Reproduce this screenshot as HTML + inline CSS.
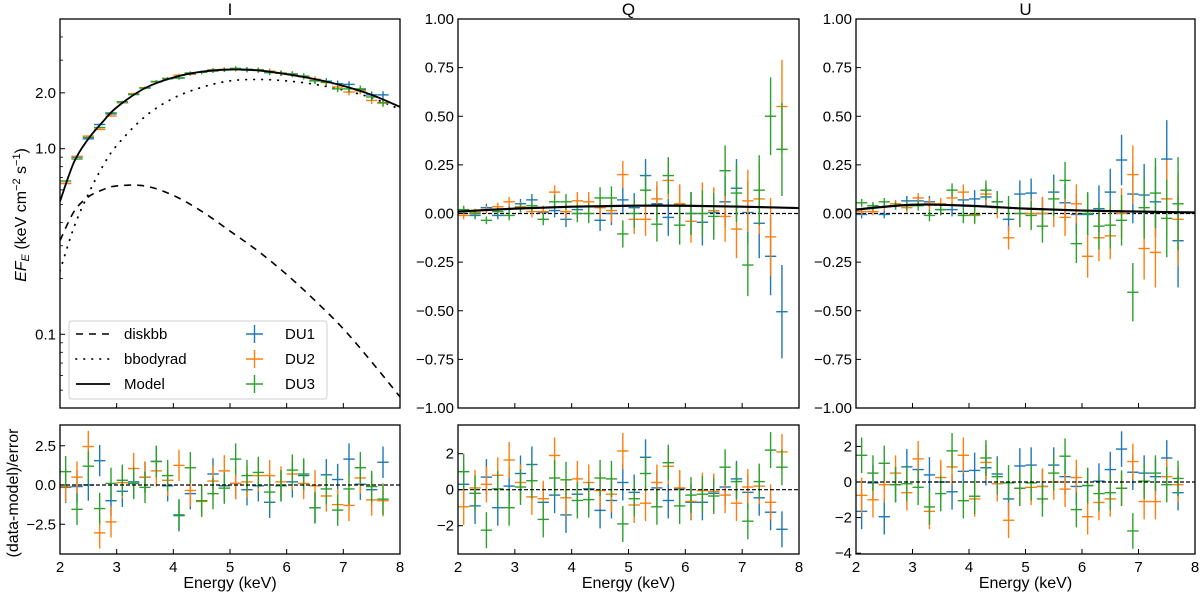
<!DOCTYPE html>
<html><head><meta charset="utf-8"><style>
body{margin:0;background:#fff;}
svg{display:block;font-family:"Liberation Sans","DejaVu Sans",sans-serif;}
</style></head><body>
<svg id="chart" width="1200" height="593" viewBox="0 0 1200 593" xmlns="http://www.w3.org/2000/svg"></svg>
<script>
// ---- data ----
const bins = [2.1,2.3,2.5,2.7,2.9,3.1,3.3,3.5,3.7,3.9,4.1,4.3,4.5,4.7,4.9,5.1,5.3,5.5,5.7,5.9,6.1,6.3,6.5,6.7,6.9,7.1,7.3,7.5,7.7];
const curveE = [2,2.25,2.5,2.75,3,3.5,4,4.5,5,5.5,6,6.5,7,7.5,8];
const modelI = [0.52,0.85,1.13,1.39,1.67,2.12,2.42,2.60,2.67,2.64,2.52,2.37,2.18,1.95,1.68];
const diskbbI = [0.32,0.46,0.55,0.60,0.63,0.63,0.56,0.46,0.36,0.28,0.21,0.152,0.107,0.071,0.046];
const bbodyI = [0.22,0.38,0.57,0.80,1.04,1.49,1.87,2.14,2.32,2.36,2.32,2.22,2.07,1.88,1.63];
const i1 = [0.65,0.90,1.13,1.35,1.54,1.77,1.96,2.13,2.30,2.38,2.40,2.52,2.58,2.66,2.66,2.68,2.65,2.64,2.57,2.55,2.51,2.46,2.32,2.31,2.24,2.22,2.07,1.95,1.95];
const i2 = [0.65,0.91,1.17,1.27,1.50,1.78,1.98,2.13,2.29,2.39,2.49,2.53,2.58,2.65,2.68,2.68,2.67,2.66,2.62,2.56,2.52,2.44,2.37,2.27,2.15,2.02,2.05,1.82,1.76];
const i3 = [0.67,0.88,1.15,1.30,1.56,1.79,1.96,2.12,2.30,2.39,2.41,2.56,2.58,2.62,2.66,2.71,2.68,2.66,2.58,2.55,2.53,2.46,2.32,2.28,2.10,2.10,2.10,1.90,1.77];
const q1 = [0.01,-0.01,0.03,-0.01,0.025,0.05,0.07,0.005,0.015,-0.03,0.02,0.035,-0.035,0.0,0.07,0.03,0.195,0.05,-0.02,0.045,0.0,-0.045,0.005,0.06,0.13,0.005,-0.05,-0.22,-0.505];
const q2 = [-0.01,0.005,0.02,0.035,0.06,0.035,0.01,0.01,0.11,0.01,0.065,0.06,0.03,0.015,0.20,-0.03,-0.03,0.075,0.17,0.05,-0.04,0.04,0.015,-0.015,-0.08,0.065,0.075,-0.12,0.55];
const q3 = [0.02,0.0,-0.035,0.01,-0.01,0.03,0.04,-0.03,0.06,0.06,0.0,0.0,0.08,0.08,-0.105,0.0,0.12,-0.055,0.195,-0.06,0.0,0.0,-0.015,0.22,0.105,-0.265,0.12,0.50,0.33];
const polErr = [0.02,0.02,0.02,0.02,0.025,0.025,0.03,0.03,0.035,0.04,0.045,0.05,0.055,0.06,0.07,0.075,0.085,0.09,0.095,0.1,0.11,0.12,0.12,0.13,0.15,0.16,0.18,0.2,0.24];
const u1 = [-0.005,0.03,-0.005,0.04,0.065,0.065,0.06,0.02,0.02,0.07,0.075,0.085,0.06,-0.03,0.10,0.105,0.0,0.11,0.055,-0.005,-0.005,0.025,0.11,0.275,0.10,0.095,0.06,0.28,-0.14];
const u2 = [0.01,0.01,0.035,0.05,0.03,0.08,0.05,0.05,0.08,0.11,-0.01,0.10,0.03,-0.125,0.0,0.0,0.0,0.02,-0.02,0.05,-0.22,-0.125,-0.115,0.0,0.20,-0.18,-0.2,0.075,-0.03];
const u3 = [0.055,0.04,0.06,0.04,0.04,0.04,-0.01,0.02,0.12,-0.01,-0.005,0.12,0.06,0.03,0.0,-0.01,-0.065,0.075,0.17,-0.155,0.0,-0.065,-0.06,-0.035,-0.405,0.03,0.105,-0.025,0.05];
const modelE = [2,3,4,5,6,7,8];
const modelQ = [0.01,0.025,0.035,0.04,0.04,0.035,0.028];
const modelU = [0.02,0.045,0.04,0.025,0.015,0.01,0.005];
const ri1 = [-0.15,-0.1,0.0,1.55,-1.0,-0.4,0.2,0.5,1.5,-0.05,-1.95,-0.55,-1.0,0.7,-0.05,0.1,-0.3,-0.05,-1.1,-0.05,0.2,0.6,-1.45,0.65,0.35,1.65,0.05,-0.3,1.45];
const ri2 = [-0.1,0.5,2.45,-3.05,-2.35,0.15,1.05,0.5,0.9,0.3,1.25,-0.35,-1.05,0.25,0.9,0.1,0.2,0.6,0.6,0.2,0.7,0.1,-0.05,-0.7,-1.25,-1.3,0.45,-0.95,-1.0];
const ri3 = [0.85,-1.55,1.2,-1.5,0.1,0.3,0.1,-0.15,1.5,0.6,-1.9,1.1,-1.0,-0.55,-0.2,1.65,0.6,0.8,-0.45,-0.05,0.95,0.7,-1.45,-0.25,-1.6,-0.25,1.1,-0.1,-0.9];
const rq1 = [0.3,-0.9,0.7,-1.0,0.2,0.9,1.4,-0.7,-0.3,-1.4,-0.25,0.05,-1.15,-0.6,0.4,-0.15,1.8,0.1,-0.6,0.05,-0.7,-0.7,-0.2,0.15,0.6,-0.15,-0.45,-1.25,-2.2];
const rq2 = [-0.95,0.1,0.3,0.8,1.65,0.4,-0.4,-0.5,1.9,-0.45,0.6,0.4,-0.05,-0.25,2.15,-0.85,-0.75,0.4,1.3,0.1,-0.65,-0.05,-0.1,-0.3,-0.75,0.15,0.2,-0.7,2.1];
const rq3 = [1.0,-0.2,-2.25,0.05,-1.0,0.15,0.5,-1.65,0.65,0.55,-0.6,-0.55,0.65,0.6,-1.9,-0.5,0.9,-0.95,1.5,-0.9,-0.3,-0.25,-0.35,1.25,0.45,-1.75,0.45,2.2,1.25];
const ru1 = [-1.65,-0.05,-1.95,-0.15,0.85,0.7,0.4,0.0,-0.55,0.6,0.65,0.8,0.45,-0.95,0.9,0.95,-0.25,0.95,0.3,-0.25,-0.2,0.05,0.7,1.85,0.55,0.5,0.3,1.35,-0.6];
const ru2 = [-0.75,-1.0,-0.15,0.5,-0.6,1.3,-1.65,0.25,0.85,1.5,-0.95,1.1,-0.1,-2.15,-0.35,-0.3,-0.25,0.0,-0.4,0.25,-1.95,-1.15,-0.95,-0.35,1.15,-1.1,-1.1,0.3,-0.15];
const ru3 = [1.5,0.5,1.05,-0.15,-0.1,-0.3,-1.4,-0.65,1.75,-1.05,-0.8,1.35,0.3,-0.05,-0.35,-0.05,-0.95,0.5,1.45,-1.55,-0.2,-0.65,-0.6,-0.35,-2.75,0.05,0.5,-0.15,0.2];
const iTicks = [2.0,1.0,0.1];
const polTicks = [1.0,0.75,0.5,0.25,0,-0.25,-0.5,-0.75,-1.0];
const xTicks = [2,3,4,5,6,7,8];
const colors = ['#1f77b4','#ff7f0e','#2ca02c'];

const NS='http://www.w3.org/2000/svg';
const svg=document.getElementById('chart');
function mk(tag,attrs,parent){const e=document.createElementNS(NS,tag);for(const k in attrs)e.setAttribute(k,attrs[k]);(parent||svg).appendChild(e);return e;}

const cols=[{x0:60,x1:400},{x0:458,x1:799},{x0:856,x1:1195}];
const TOP={y0:19,y1:408}, BOT={y0:425,y1:554};
function xs(c){return e=>cols[c].x0+(e-2)/6*(cols[c].x1-cols[c].x0);}
const yLog=v=>148.7-185.6*Math.log10(v);
const yPol=v=>TOP.y0+(1-v)/2*(TOP.y1-TOP.y0);
const yR=[v=>485-15.7*v, v=>489.7-18*v, v=>482-17.8*v];
const FS=15;

function clip(id,c,p){const cp=mk('clipPath',{id:id});mk('rect',{x:cols[c].x0,y:p.y0,width:cols[c].x1-cols[c].x0,height:p.y1-p.y0},cp);return 'url(#'+id+')';}

function frame(c,p,name){
  const r=mk('rect',{x:cols[c].x0,y:p.y0,width:cols[c].x1-cols[c].x0,height:p.y1-p.y0,fill:'none',stroke:'#000','stroke-width':1.3});
  
  
}
function xAxis(c,p,labels,name){
  const g=mk('g',{});
  
  
  const X=xs(c);
  xTicks.forEach(t=>{
    const x=X(t);
    mk('line',{x1:x,x2:x,y1:p.y1,y2:p.y1-5,stroke:'#000','stroke-width':1},g);
    if(labels){const tx=mk('text',{x:x,y:p.y1+18,'font-size':FS,'text-anchor':'middle'},g);tx.textContent=t;}
  });
  if(labels){const tt=mk('text',{x:(cols[c].x0+cols[c].x1)/2,y:p.y1+34,'font-size':16,'text-anchor':'middle'},g);tt.textContent='Energy (keV)';}
}
function yAxis(c,ticks,fy,fmt,name,minor){
  const g=mk('g',{});
  
  
  const x0=cols[c].x0;
  ticks.forEach(t=>{
    const y=fy(t);
    mk('line',{x1:x0,x2:x0+5,y1:y,y2:y,stroke:'#000','stroke-width':1},g);
    const tx=mk('text',{x:x0-4,y:y+5,'font-size':FS,'text-anchor':'end'},g);tx.textContent=fmt(t);
  });
  (minor||[]).forEach(t=>{const y=fy(t);mk('line',{x1:x0,x2:x0+3,y1:y,y2:y,stroke:'#000','stroke-width':0.8},g);});
}
function curve(c,E,V,fy,attrs,name,cl){
  const X=xs(c);
  const pts=E.map((e,i)=>[X(e),fy(V[i])]);
  let d='M'+pts[0][0]+','+pts[0][1];
  for(let i=0;i<pts.length-1;i++){
    const p0=pts[Math.max(0,i-1)],p1=pts[i],p2=pts[i+1],p3=pts[Math.min(pts.length-1,i+2)];
    d+=' C'+(p1[0]+(p2[0]-p0[0])/6)+','+(p1[1]+(p2[1]-p0[1])/6)+' '+(p2[0]-(p3[0]-p1[0])/6)+','+(p2[1]-(p3[1]-p1[1])/6)+' '+p2[0]+','+p2[1];
  }
  const a=Object.assign({d:d,fill:'none','clip-path':cl},attrs);
  const p=mk('path',a);
  
  
}
function errbars(c,vals,errs,fy,col,name,cl){
  const g=mk('g',{'clip-path':cl,stroke:col,'stroke-width':1.4});
  
  
  const X=xs(c);
  bins.forEach((e,i)=>{
    const v=vals[i], er=errs(i,v);
    const x=X(e), y=fy(v);
    mk('line',{x1:X(e-0.1),x2:X(e+0.1),y1:y,y2:y},g);
    mk('line',{x1:x,x2:x,y1:fy(v+er),y2:fy(v-er)},g);
  });
}
function zeroLine(c,p,fy,name,cl){
  const l=mk('line',{x1:cols[c].x0,x2:cols[c].x1,y1:fy(0),y2:fy(0),stroke:'#000','stroke-width':1.2,'stroke-dasharray':'4,2','clip-path':cl});
  
  
}

['I','Q','U'].forEach((t,c)=>{const tx=mk('text',{x:(cols[c].x0+cols[c].x1)/2,y:15,'font-size':17,'text-anchor':'middle'});tx.textContent=t;
  
  });

// ---- I top ----
const cI=clip('cI',0,TOP);
const minorLog=[0.05,0.06,0.07,0.08,0.09,0.2,0.3,0.4,0.5,0.6,0.7,0.8,0.9,3,4];
yAxis(0,iTicks,yLog,t=>t.toFixed(1),'i-y-axis',minorLog);
xAxis(0,TOP,false,'i-x-axis');
curve(0,curveE,diskbbI,yLog,{stroke:'#000','stroke-width':1.6,'stroke-dasharray':'7,6'},'diskbb-curve',cI);
curve(0,curveE,bbodyI,yLog,{stroke:'#000','stroke-width':1.8,'stroke-dasharray':'0.5,7.5','stroke-linecap':'round'},'bbodyrad-curve',cI);
[i1,i2,i3].forEach((s,k)=>errbars(0,s,(i,v)=>v*(0.004+0.0015*i),yLog,colors[k],'i-du'+(k+1)+'-points',cI));
curve(0,curveE,modelI,yLog,{stroke:'#000','stroke-width':1.8},'i-model-curve',cI);
frame(0,TOP,'i-panel-frame');
const yl=mk('text',{x:0,y:0,'font-size':16,'text-anchor':'middle',transform:'translate(26,215) rotate(-90)'});


yl.innerHTML='<tspan font-style="italic">EF</tspan><tspan font-style="italic" font-size="11" dy="3">E</tspan><tspan dy="-3"> (keV cm</tspan><tspan font-size="11" dy="-6">−2</tspan><tspan dy="6"> s</tspan><tspan font-size="11" dy="-6">−1</tspan><tspan dy="6">)</tspan>';

// legend
const lg=mk('g',{});


mk('rect',{x:69,y:321,width:258,height:78,rx:3,fill:'#fff','fill-opacity':0.85,stroke:'#d0d0d0'},lg);
const lEntries=[['diskbb','7,6',1.6],['bbodyrad','0.5,7.5',1.8],['Model','',1.8]];
lEntries.forEach((e,i)=>{
  const y=334+i*25;
  const g=mk('g',{},lg);
  
  
  const a={x1:76,x2:110,y1:y,y2:y,stroke:'#000','stroke-width':e[2],'stroke-linecap':e[0]==='bbodyrad'?'round':'butt'};
  if(e[1])a['stroke-dasharray']=e[1];
  mk('line',a,g);
  const t=mk('text',{x:124,y:y+5,'font-size':15},g);t.textContent=e[0];
});
['DU1','DU2','DU3'].forEach((n,i)=>{
  const y=334+i*25;
  const g=mk('g',{stroke:colors[i],'stroke-width':1.4},lg);
  
  
  mk('line',{x1:246,x2:263,y1:y,y2:y},g);
  mk('line',{x1:254.5,x2:254.5,y1:y-9,y2:y+9},g);
  const t=mk('text',{x:285,y:y+5,'font-size':15,stroke:'none',fill:'#000'},g);t.textContent=n;
});

// ---- Q and U top ----
[[1,[q1,q2,q3],modelQ,'q'],[2,[u1,u2,u3],modelU,'u']].forEach(([c,ser,mod,nm])=>{
  const cl=clip('c'+nm,c,TOP);
  yAxis(c,polTicks,yPol,t=>(t<0?'−':'')+Math.abs(t).toFixed(2),nm+'-y-axis');
  xAxis(c,TOP,false,nm+'-x-axis');
  zeroLine(c,TOP,yPol,nm+'-zero-line',cl);
  ser.forEach((s,k)=>errbars(c,s,(i)=>polErr[i],yPol,colors[k],nm+'-du'+(k+1)+'-points',cl));
  curve(c,modelE,mod,yPol,{stroke:'#000','stroke-width':2.2},nm+'-model-curve',cl);
  frame(c,TOP,nm+'-panel-frame');
});

// ---- residuals ----
const resTicks=[[2.5,0,-2.5],[2,0,-2],[2,0,-2,-4]];
const resFmt=[t=>(t<0?'−':'')+Math.abs(t).toFixed(1),t=>(t<0?'−':'')+Math.abs(t),t=>(t<0?'−':'')+Math.abs(t)];
[[ri1,ri2,ri3],[rq1,rq2,rq3],[ru1,ru2,ru3]].forEach((ser,c)=>{
  const nm=['i','q','u'][c];
  const cl=clip('r'+nm,c,BOT);
  yAxis(c,resTicks[c],yR[c],resFmt[c],nm+'-residual-y-axis');
  xAxis(c,BOT,true,nm+'-residual-x-axis');
  ser.forEach((s,k)=>errbars(c,s,()=>1,yR[c],colors[k],nm+'-residual-du'+(k+1),cl));
  zeroLine(c,BOT,yR[c],nm+'-residual-zero-line',cl);
  frame(c,BOT,nm+'-residual-frame');
});
const ry=mk('text',{x:0,y:0,'font-size':16,'text-anchor':'middle',transform:'translate(18,493) rotate(-90)'});
ry.textContent='(data-model)/error';


</script>
</body></html>
